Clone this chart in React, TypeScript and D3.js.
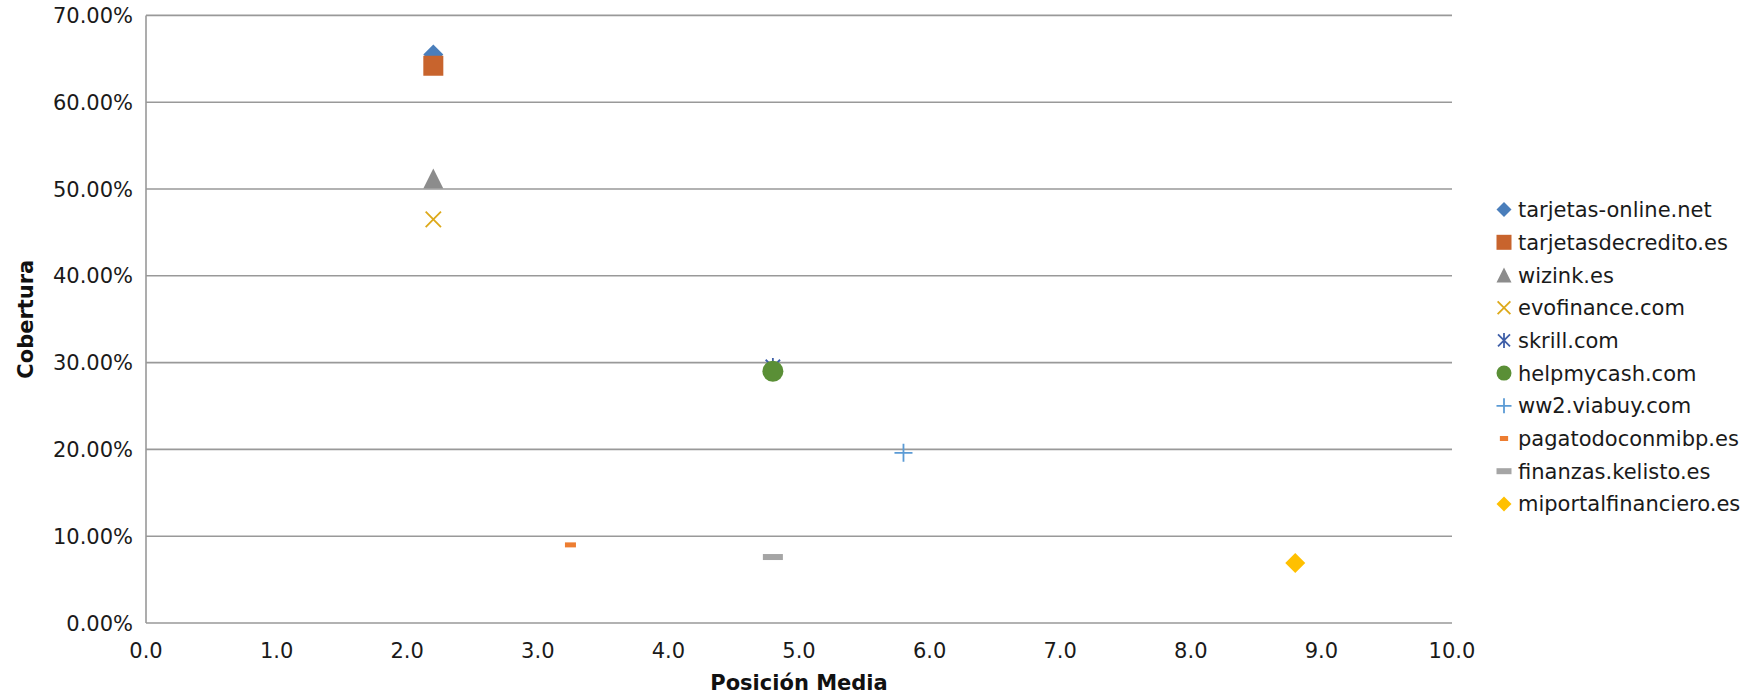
import React from "react";
import * as d3 from "d3";

const seriesNames = [
  "tarjetas-online.net",
  "tarjetasdecredito.es",
  "wizink.es",
  "evofinance.com",
  "skrill.com",
  "helpmycash.com",
  "ww2.viabuy.com",
  "pagatodoconmibp.es",
  "finanzas.kelisto.es",
  "miportalfinanciero.es",
];
const posicionMedia = [2.2, 2.2, 2.2, 2.2, 4.8, 4.8, 5.8, 3.25, 4.8, 8.8];
const cobertura = [0.655, 0.642, 0.512, 0.465, 0.295, 0.29, 0.196, 0.09, 0.076, 0.069];
const markerTypes = ["diamond", "square", "triangle", "x", "star", "circle", "plus", "dash", "dashwide", "diamond"];
const colors = ["#4A7EBB", "#C8642D", "#8C8C8C", "#DDA91A", "#3F5FA8", "#5A8F36", "#5B9BD5", "#ED7D31", "#A5A5A5", "#FFC000"];
const xTicks = [0, 1, 2, 3, 4, 5, 6, 7, 8, 9, 10];
const yTicks = [0, 0.1, 0.2, 0.3, 0.4, 0.5, 0.6, 0.7];

const W = 1748;
const H = 697;
const M = { left: 146, right: 1452, top: 15.4, bottom: 623 };
const FONT = "'DejaVu Sans', Verdana, sans-serif";

function Marker({ type, color, s }: { type: string; color: string; s: number }) {
  const h = s / 2;
  switch (type) {
    case "diamond":
      return <path d={`M0,${-h}L${h},0L0,${h}L${-h},0Z`} fill={color} />;
    case "square":
      return <rect x={-h} y={-h} width={s} height={s} fill={color} />;
    case "triangle":
      return <path d={`M0,${-h}L${h},${h}L${-h},${h}Z`} fill={color} />;
    case "circle":
      return <circle r={h} fill={color} />;
    case "x":
      return <path d={`M${-h * 0.85},${-h * 0.85}L${h * 0.85},${h * 0.85}M${h * 0.85},${-h * 0.85}L${-h * 0.85},${h * 0.85}`} stroke={color} strokeWidth={1.8} fill="none" />;
    case "star":
      return <path d={`M${-h * 0.8},${-h * 0.8}L${h * 0.8},${h * 0.8}M${h * 0.8},${-h * 0.8}L${-h * 0.8},${h * 0.8}M0,${-h}L0,${h}`} stroke={color} strokeWidth={1.8} fill="none" />;
    case "plus":
      return <path d={`M${-h},0L${h},0M0,${-h}L0,${h}`} stroke={color} strokeWidth={1.8} fill="none" />;
    case "dash":
      return <rect x={-h * 0.55} y={-2.5} width={s * 0.55} height={5} fill={color} />;
    case "dashwide":
      return <rect x={-h} y={-3} width={s} height={6} fill={color} />;
    default:
      return null;
  }
}

export default function App() {
  const x = d3.scaleLinear().domain([0, 10]).range([M.left, M.right]);
  const y = d3.scaleLinear().domain([0, 0.7]).range([M.bottom, M.top]);
  const fmtY = (v: number) => (v * 100).toFixed(2) + "%";
  const fmtX = d3.format(".1f");
  const plotSizes = [20, 20, 20, 18, 18, 21, 18, 20, 20, 20];
  const legendSizes = [15, 15, 15, 15, 15, 15, 15, 15, 15, 15];

  return (
    <svg width={W} height={H} style={{ position: "absolute", left: 0, top: 0, background: "#fff" }} fontFamily={FONT}>
      {yTicks.map((t) => (
        <line key={"g" + t} x1={M.left} x2={M.right} y1={y(t)} y2={y(t)} stroke="#999" strokeWidth={1.6} />
      ))}
      <line x1={M.left} x2={M.left} y1={M.top} y2={M.bottom} stroke="#999" strokeWidth={1.6} />
      {yTicks.map((t) => (
        <text key={"yl" + t} x={133} y={y(t)} dy="0.36em" textAnchor="end" fontSize={21} fill="#1a1a1a">
          {fmtY(t)}
        </text>
      ))}
      {xTicks.map((t) => (
        <text key={"xl" + t} x={x(t)} y={650} dy="0.36em" textAnchor="middle" fontSize={21} fill="#1a1a1a">
          {fmtX(t)}
        </text>
      ))}
      <text x={(M.left + M.right) / 2} y={682} dy="0.36em" textAnchor="middle" fontSize={21} fontWeight="bold" fill="#111">
        Posición Media
      </text>
      <text transform={`translate(25,${(M.top + M.bottom) / 2}) rotate(-90)`} textAnchor="middle" dy="0.36em" fontSize={21} fontWeight="bold" fill="#111">
        Cobertura
      </text>
      {seriesNames.map((n, i) => (
        <g key={"p" + n} transform={`translate(${x(posicionMedia[i])},${y(cobertura[i])})`}>
          <Marker type={markerTypes[i]} color={colors[i]} s={plotSizes[i]} />
        </g>
      ))}
      {seriesNames.map((n, i) => {
        const ly = 209.6 + i * 32.7;
        return (
          <g key={"l" + n}>
            <g transform={`translate(1504,${ly})`}>
              <Marker type={markerTypes[i]} color={colors[i]} s={legendSizes[i]} />
            </g>
            <text x={1518} y={ly} dy="0.36em" fontSize={21} fill="#1a1a1a">
              {n}
            </text>
          </g>
        );
      })}
    </svg>
  );
}
